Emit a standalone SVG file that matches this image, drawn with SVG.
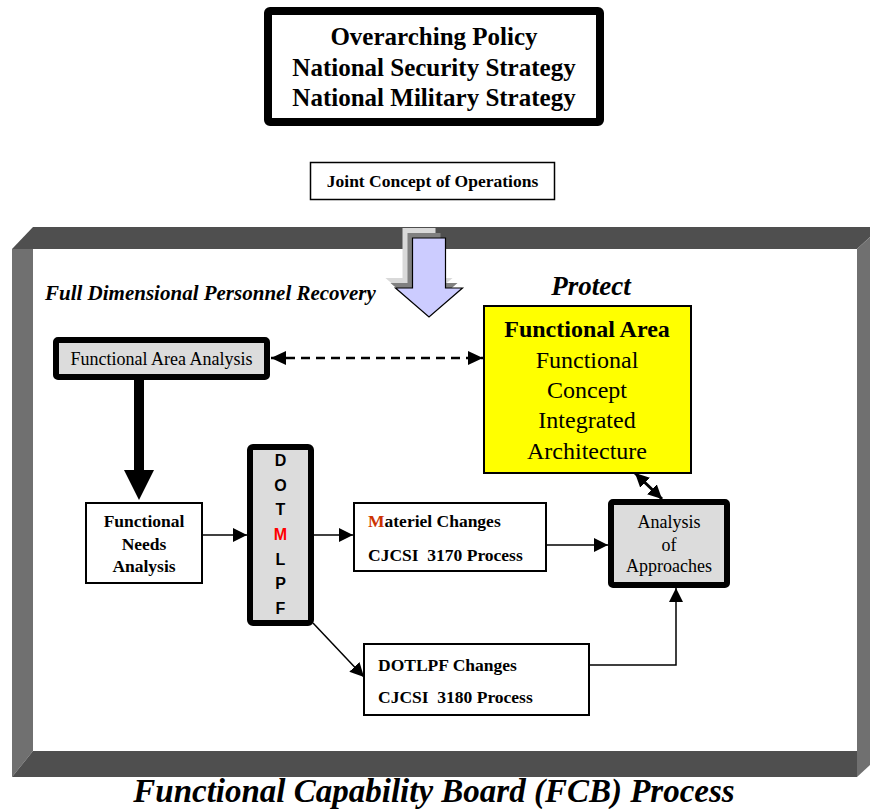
<svg xmlns="http://www.w3.org/2000/svg" width="870" height="809" viewBox="0 0 870 809">
  <style>
    .serif { font-family: "Liberation Serif", "Times New Roman", serif; fill: #000; }
    .sans { font-family: "Liberation Sans", Arial, sans-serif; fill: #000; }
    .b { font-weight: bold; }
    .bi { font-weight: bold; font-style: italic; }
    .mid { text-anchor: middle; }
    .thin { fill: #fff; stroke: #000; stroke-width: 2; }
    .thick { fill: #dcdcdc; stroke: #000; stroke-width: 6; }
    .wire { fill: none; stroke: #000; stroke-width: 1.5; }
  </style>
  <defs>
    <marker id="head" markerUnits="userSpaceOnUse" markerWidth="14" markerHeight="14" refX="14" refY="7" orient="auto-start-reverse">
      <path d="M0,0 L14,7 L0,14 Z" fill="#000"/>
    </marker>
    <marker id="headBig" markerUnits="userSpaceOnUse" markerWidth="15" markerHeight="14" refX="15" refY="7" orient="auto-start-reverse">
      <path d="M0,0 L15,7 L0,14 Z" fill="#000"/>
    </marker>
    <path id="blockArrow" d="M-16.5,0 H16.5 V50 H33.5 L0,79 L-33.5,50 H-16.5 Z"/>
  </defs>

  <rect width="870" height="809" fill="#fff"/>

  <!-- top policy block -->
  <g id="policy">
    <rect x="268" y="11" width="332" height="111" rx="2" fill="#fff" stroke="#000" stroke-width="8"/>
    <text class="serif b mid" x="434" y="45" font-size="25">Overarching Policy</text>
    <text class="serif b mid" x="434" y="75.5" font-size="25">National Security Strategy</text>
    <text class="serif b mid" x="434" y="106" font-size="25">National Military Strategy</text>
  </g>

  <g id="joint-conops">
    <rect x="310.5" y="162.5" width="244" height="37" fill="#fff" stroke="#000" stroke-width="1.5"/>
    <text class="serif b mid" x="432.5" y="187" font-size="17.5">Joint Concept of Operations</text>
  </g>

  <!-- bevelled board frame -->
  <g id="board-frame">
    <rect x="33" y="249" width="824" height="502" fill="#fff"/>
    <polygon points="33,227 870,227 870,237 857,249 12,249" fill="#4f4f4f"/>
    <polygon points="12,249 33,249 33,751 12,777" fill="#707070"/>
    <polygon points="33,751 857,751 857,777 12,777" fill="#4f4f4f"/>
    <polygon points="857,249 870,237 870,765 857,777" fill="#707070"/>
  </g>

  <!-- input arrow into the board -->
  <g id="input-arrow">
    <use href="#blockArrow" transform="translate(419,228)" fill="#d9d9d9"/>
    <use href="#blockArrow" transform="translate(424,233)" fill="#808080"/>
    <use href="#blockArrow" transform="translate(429,238)" fill="#ccccff" stroke="#000" stroke-width="1.2"/>
  </g>

  <g id="heading-fdpr">
    <text class="serif bi" x="45" y="300" font-size="21">Full Dimensional Personnel Recovery</text>
  </g>
  <g id="heading-protect">
    <text class="serif bi mid" x="591" y="295" font-size="27">Protect</text>
  </g>

  <g id="functional-area">
    <rect x="484" y="306" width="207" height="167" fill="#ffff00" stroke="#000" stroke-width="2"/>
    <text class="serif b mid" x="587" y="337" font-size="24">Functional Area</text>
    <text class="serif mid" x="587" y="368" font-size="24">Functional</text>
    <text class="serif mid" x="587" y="398" font-size="24">Concept</text>
    <text class="serif mid" x="587" y="428" font-size="24">Integrated</text>
    <text class="serif mid" x="587" y="459" font-size="24">Architecture</text>
  </g>

  <g id="faa">
    <rect class="thick" x="56" y="340" width="211" height="37" rx="2"/>
    <text class="serif mid" x="161.5" y="365" font-size="18">Functional Area Analysis</text>
  </g>

  <g id="fna">
    <rect class="thin" x="86" y="503" width="116" height="80"/>
    <text class="serif b mid" x="144" y="527" font-size="17.5">Functional</text>
    <text class="serif b mid" x="144" y="549.5" font-size="17.5">Needs</text>
    <text class="serif b mid" x="144" y="572" font-size="17.5">Analysis</text>
  </g>

  <g id="dotmlpf">
    <rect class="thick" x="250" y="447" width="61" height="176" rx="3"/>
    <text class="sans b mid" x="280.5" y="466" font-size="16">D</text>
    <text class="sans b mid" x="280.5" y="491" font-size="16">O</text>
    <text class="sans b mid" x="280.5" y="515" font-size="16">T</text>
    <text class="sans b mid" x="280.5" y="540" font-size="16" style="fill:#ff0000">M</text>
    <text class="sans b mid" x="280.5" y="565" font-size="16">L</text>
    <text class="sans b mid" x="280.5" y="589" font-size="16">P</text>
    <text class="sans b mid" x="280.5" y="614" font-size="16">F</text>
  </g>

  <g id="materiel">
    <rect class="thin" x="354" y="503" width="192" height="68"/>
    <text class="serif b" x="368" y="527" font-size="17.5"><tspan style="fill:#cc3300">M</tspan>ateriel Changes</text>
    <text class="serif b" x="368" y="561" font-size="17.5">CJCSI&#160; 3170 Process</text>
  </g>

  <g id="dotlpf">
    <rect class="thin" x="364" y="644" width="225" height="71"/>
    <text class="serif b" x="378" y="671" font-size="17.5">DOTLPF Changes</text>
    <text class="serif b" x="378" y="703" font-size="17.5">CJCSI&#160; 3180 Process</text>
  </g>

  <g id="aoa">
    <rect class="thick" x="611" y="502" width="116" height="83" rx="2"/>
    <text class="serif mid" x="669" y="528" font-size="18">Analysis</text>
    <text class="serif mid" x="669" y="551" font-size="18">of</text>
    <text class="serif mid" x="669" y="572" font-size="18">Approaches</text>
  </g>

  <g id="connectors">
    <!-- FAA <-> functional area (dashed) -->
    <line x1="271" y1="358" x2="483" y2="358" stroke="#000" stroke-width="2.5" stroke-dasharray="9,6" marker-start="url(#headBig)" marker-end="url(#headBig)"/>
    <!-- FAA -> FNA heavy arrow -->
    <rect x="134" y="380" width="10" height="92" fill="#000"/>
    <polygon points="124,470 154,470 139,500" fill="#000"/>
    <!-- FNA -> DOTMLPF -->
    <line class="wire" x1="202" y1="535" x2="247" y2="535" marker-end="url(#head)"/>
    <!-- DOTMLPF -> Materiel -->
    <line class="wire" x1="314" y1="535" x2="353" y2="535" marker-end="url(#head)"/>
    <!-- Materiel -> AoA -->
    <line class="wire" x1="547" y1="545" x2="608" y2="545" marker-end="url(#head)"/>
    <!-- functional area <-> AoA -->
    <line x1="635" y1="473" x2="662" y2="499" stroke="#000" stroke-width="3" marker-start="url(#head)" marker-end="url(#head)"/>
    <!-- DOTMLPF -> DOTLPF -->
    <line class="wire" x1="313" y1="623" x2="364" y2="677" marker-end="url(#head)"/>
    <!-- DOTLPF -> AoA -->
    <polyline class="wire" points="590,665 676,665 676,588" marker-end="url(#head)"/>
  </g>

  <g id="title">
    <text class="serif bi mid" x="434" y="802" font-size="33">Functional Capability Board (FCB) Process</text>
  </g>
</svg>
